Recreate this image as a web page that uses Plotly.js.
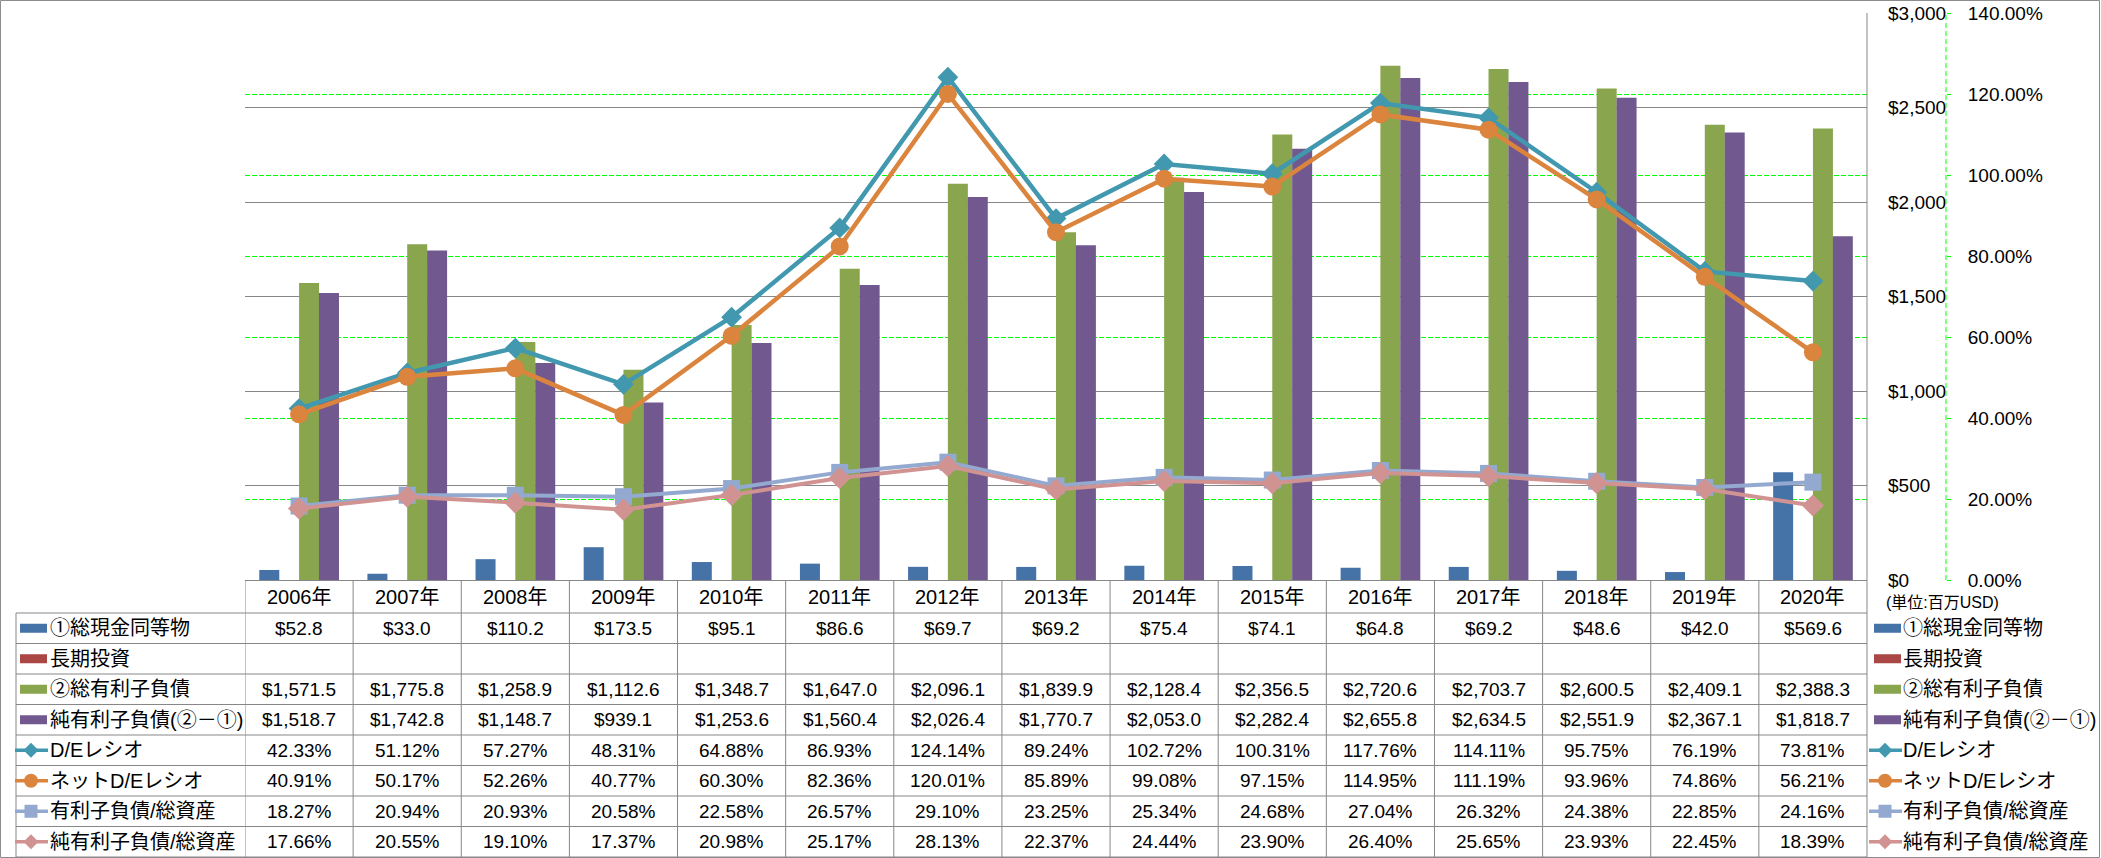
<!DOCTYPE html>
<html><head><meta charset="utf-8">
<script src="https://cdn.plot.ly/plotly-3.0.1.min.js"></script>
<style>html,body{margin:0;padding:0;background:#fff;}#chart{width:2101px;height:858px;}</style>
</head><body><div id="chart"></div>
<script>
// ---------------- data ----------------
const years = ['2006年','2007年','2008年','2009年','2010年','2011年','2012年','2013年','2014年','2015年','2016年','2017年','2018年','2019年','2020年'];
const cash = [52.8, 33.0, 110.2, 173.5, 95.1, 86.6, 69.7, 69.2, 75.4, 74.1, 64.8, 69.2, 48.6, 42.0, 569.6];
const longInvest = [null,null,null,null,null,null,null,null,null,null,null,null,null,null,null];
const totalDebt = [1571.5, 1775.8, 1258.9, 1112.6, 1348.7, 1647.0, 2096.1, 1839.9, 2128.4, 2356.5, 2720.6, 2703.7, 2600.5, 2409.1, 2388.3];
const netDebt = [1518.7, 1742.8, 1148.7, 939.1, 1253.6, 1560.4, 2026.4, 1770.7, 2053.0, 2282.4, 2655.8, 2634.5, 2551.9, 2367.1, 1818.7];
const deRatio = [42.33, 51.12, 57.27, 48.31, 64.88, 86.93, 124.14, 89.24, 102.72, 100.31, 117.76, 114.11, 95.75, 76.19, 73.81];
const netDeRatio = [40.91, 50.17, 52.26, 40.77, 60.30, 82.36, 120.01, 85.89, 99.08, 97.15, 114.95, 111.19, 93.96, 74.86, 56.21];
const debtToAssets = [18.27, 20.94, 20.93, 20.58, 22.58, 26.57, 29.10, 23.25, 25.34, 24.68, 27.04, 26.32, 24.38, 22.85, 24.16];
const netDebtToAssets = [17.66, 20.55, 19.10, 17.37, 20.98, 25.17, 28.13, 22.37, 24.44, 23.90, 26.40, 25.65, 23.93, 22.45, 18.39];
const seriesNames = ['①総現金同等物','長期投資','②総有利子負債','純有利子負債(②－①)','D/Eレシオ','ネットD/Eレシオ','有利子負債/総資産','純有利子負債/総資産'];
const unitLabel = '(単位:百万USD)';

// ---------------- layout helpers ----------------
const W = 2101, H = 858, L = 245, R = 155, T = 13, B = 278;
const PW = W - L - R, PH = H - T - B, Y0 = H - B;
const plotRight = 1867;
const px = x => (x - L) / PW;
const py = y => (Y0 - y) / PH;
const GRID = '#878787', GREEN = '#00FF00', TXT = '#000000';
const FONT = "'Liberation Sans','Noto Sans CJK JP',sans-serif";
const FS = 19, FL = 20;

const colors = ['#4572A7','#AA4643','#89A54E','#71588F','#4198AF','#DB843D','#93A9CF','#D19392'];
const symbols = [null,null,null,null,'diamond','circle','square','diamond'];
const msizes = [0,0,0,0,16,18,17,17];
const lwidths = [0,0,0,0,4.5,4.5,4,4];
const values = [cash, longInvest, totalDebt, netDebt, deRatio, netDeRatio, debtToAssets, netDebtToAssets];
const isBar = [true,true,true,true,false,false,false,false];

const fmtDollar = v => v == null ? '' : '$' + v.toLocaleString('en-US', {minimumFractionDigits:1, maximumFractionDigits:1});
const fmtPct = v => v == null ? '' : v.toFixed(2) + '%';

// ---------------- traces ----------------
const barW = 0.185;
const barOffsets = [-0.368, -0.184, 0.0, 0.184];
const traces = [];
for (let i = 0; i < 8; i++) {
  if (isBar[i]) {
    traces.push({type:'bar', name:seriesNames[i], x:years, y:values[i], width:barW, offset:barOffsets[i],
      marker:{color:colors[i], line:{width:0}}, showlegend:false, hoverinfo:'skip'});
  } else {
    traces.push({type:'scatter', mode:'lines+markers', name:seriesNames[i], x:years, y:values[i], yaxis:'y2',
      line:{color:colors[i], width:lwidths[i]}, marker:{color:colors[i], symbol:symbols[i], size:msizes[i]},
      showlegend:false, hoverinfo:'skip', cliponaxis:false});
  }
}

// ---------------- table & legend ----------------
const bnd = [580, 613, 643.5, 674, 704.5, 735, 765.5, 796, 826.5, 857];
const shapes = [];
const annotations = [];
const ln = (x0,y0,x1,y1,color,extra) => Object.assign({type:'line', xref:'paper', yref:'paper', x0:px(x0), x1:px(x1), y0:py(y0), y1:py(y1), line:{color:color||GRID, width:1}}, extra||{});

// outer border
shapes.push({type:'rect', xref:'paper', yref:'paper', x0:px(0.5), x1:px(2099.5), y0:py(0.5), y1:py(857.5), line:{color:'#8C8C8C', width:1}});
// plot right border
shapes.push(ln(plotRight, T, plotRight, 857));
// table horizontal lines
for (let r = 1; r < bnd.length; r++) shapes.push(ln(16, bnd[r], plotRight, bnd[r]));
// table vertical lines
shapes.push(ln(16, bnd[1], 16, 857));
for (let k = 0; k < years.length; k++) {
  shapes.push({type:'line', xref:'x', yref:'paper', x0:k-0.5, x1:k-0.5, y0:py(580), y1:py(857), line:{color:GRID, width:1}});
}
// secondary axis dashed line
shapes.push({type:'line', xref:'paper', yref:'paper', x0:1, x1:1, y0:0, y1:1, line:{color:GREEN, width:1, dash:'5px,3px'}});

// header years
years.forEach(y => annotations.push({xref:'x', yref:'paper', x:y, y:py((bnd[0]+bnd[1])/2), text:y, showarrow:false,
  xanchor:'center', yanchor:'middle', font:{size:FL, color:TXT}}));

function key(i, xk, c) {
  if (isBar[i]) {
    shapes.push({type:'rect', xref:'paper', yref:'paper', x0:px(xk+2), x1:px(xk+29), y0:py(c+4.5), y1:py(c-4.5),
      fillcolor:colors[i], line:{width:0}});
  } else {
    shapes.push(ln(xk-3, c, xk+30, c, colors[i], {line:{color:colors[i], width:3.5}}));
    const base = {xref:'paper', yref:'paper', xsizemode:'pixel', ysizemode:'pixel', xanchor:px(xk+13), yanchor:py(c),
      fillcolor:colors[i], line:{width:0}};
    if (symbols[i] === 'diamond') shapes.push(Object.assign({type:'path', path:'M0,7.5 L7.5,0 L0,-7.5 L-7.5,0 Z'}, base));
    else if (symbols[i] === 'circle') shapes.push(Object.assign({type:'circle', x0:-7, x1:7, y0:-7, y1:7}, base));
    else shapes.push(Object.assign({type:'rect', x0:-6.5, x1:6.5, y0:-6.5, y1:6.5}, base));
  }
}

for (let i = 0; i < 8; i++) {
  const c = (bnd[i+1] + bnd[i+2]) / 2;
  const fmt = isBar[i] ? fmtDollar : fmtPct;
  // table row label
  key(i, 18, c);
  annotations.push({xref:'paper', yref:'paper', x:px(48), y:py(c), text:seriesNames[i], showarrow:false,
    xanchor:'left', yanchor:'middle', font:{size:FL, color:TXT}});
  // values
  values[i].forEach((v, k) => {
    if (v == null) return;
    annotations.push({xref:'x', yref:'paper', x:years[k], y:py(c), text:fmt(v), showarrow:false,
      xanchor:'center', yanchor:'middle', font:{size:FS, color:TXT}});
  });
  // right legend
  key(i, 1872, c);
  annotations.push({xref:'paper', yref:'paper', x:px(1901), y:py(c), text:seriesNames[i], showarrow:false,
    xanchor:'left', yanchor:'middle', font:{size:FL, color:TXT}});
}
annotations.push({xref:'paper', yref:'paper', x:px(1884), y:py(602), text:unitLabel, showarrow:false,
  xanchor:'left', yanchor:'middle', font:{size:16, color:TXT}});

const layout = {
  width: W, height: H,
  margin: {l:L, r:R, t:T, b:B, pad:0},
  paper_bgcolor:'#ffffff', plot_bgcolor:'#ffffff',
  font: {family:FONT, size:FS, color:TXT},
  showlegend: false,
  barmode: 'overlay',
  hovermode: false,
  xaxis: {type:'category', domain:[0, px(plotRight)], range:[-0.5, years.length-0.5], showgrid:false,
    showticklabels:false, ticks:'', showline:true, linecolor:GRID, linewidth:1, zeroline:false, fixedrange:true},
  yaxis: {range:[0,3000], dtick:500, tick0:0, tickprefix:'$', tickformat:',d', side:'right', anchor:'x',
    showgrid:true, gridcolor:GRID, gridwidth:1, zeroline:false, ticks:'', showline:false,
    ticklabelstandoff:20, tickfont:{size:FS, color:TXT}, fixedrange:true},
  yaxis2: {range:[0,140], dtick:20, tick0:0, ticksuffix:'%', tickformat:'.2f', overlaying:'y', side:'right',
    anchor:'free', position:1, showgrid:true, gridcolor:GREEN, gridwidth:1, griddash:'5px,2px', zeroline:false,
    ticks:'outside', ticklen:4, tickcolor:GREEN, showline:false, ticklabelstandoff:13,
    tickfont:{size:FS, color:TXT}, fixedrange:true},
  shapes: shapes,
  annotations: annotations
};

Plotly.newPlot('chart', traces, layout, {staticPlot:true, displayModeBar:false});
</script>
</body></html>
